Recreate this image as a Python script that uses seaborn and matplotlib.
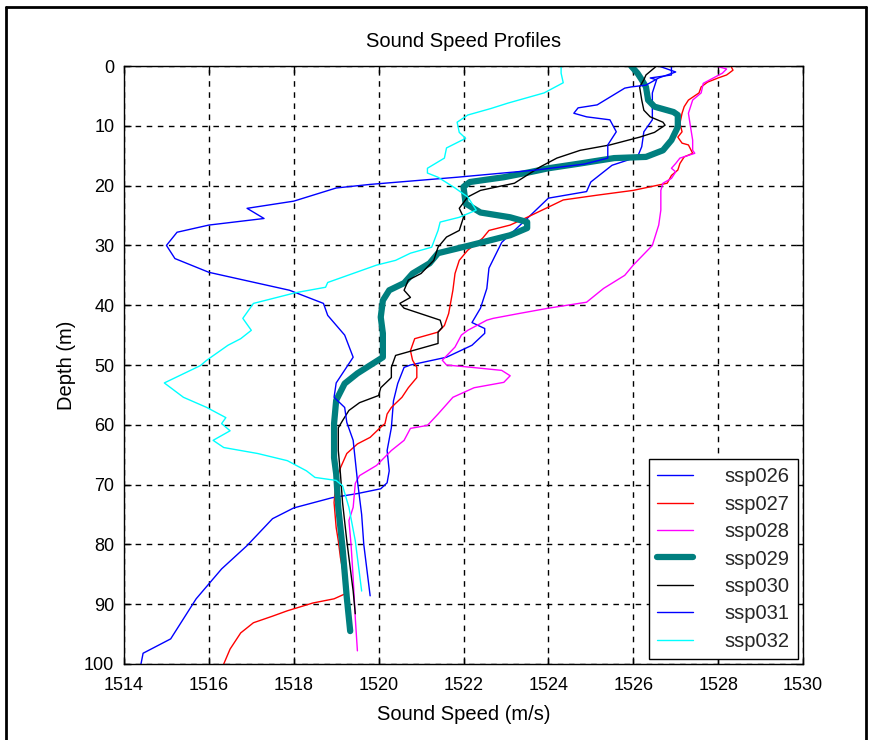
import matplotlib
matplotlib.use("Agg")
import matplotlib.pyplot as plt
import seaborn as sns
import pandas as pd
from matplotlib.lines import Line2D

sns.set_theme(style="white")
plt.rcParams['font.family'] = ['Liberation Sans', 'DejaVu Sans']

# ---------------- data (depth m, sound speed m/s) ----------------
ssp026_depth = [0, 0, 1.5, 2, 2.3, 4.5, 9, 11, 13.5, 15.2, 16.6, 19.4, 21, 22.1, 25.5, 29.5, 33.8,
                37.2, 40.5, 42.9, 43.9, 44.7, 46.7, 48.7, 50, 50.4, 53.1, 56, 60.5, 64.3, 67.7,
                69.7, 70.7, 71.5, 72.2, 73.9, 75.7, 80.2, 84.1, 89.1, 95.8, 98.2, 100]
ssp026_speed = [1526.5, 1526.9, 1526.9, 1526.4, 1526.55, 1526.45, 1526.45, 1526.25, 1526.2, 1526.1,
                1525.5, 1525.0, 1524.9, 1524.0, 1523.5, 1522.9, 1522.6, 1522.55, 1522.4, 1522.2,
                1522.5, 1522.5, 1522.2, 1521.6, 1520.75, 1520.6, 1520.45, 1520.35, 1520.3, 1520.2,
                1520.25, 1520.2, 1520.05, 1519.5, 1518.9, 1518.0, 1517.5, 1516.9, 1516.3, 1515.7,
                1515.1, 1514.45, 1514.4]

ssp027_depth = [0, 0.7, 1.5, 2, 2.7, 3.5, 4.5, 5.7, 6.8, 7.9, 9.6, 11, 11.9, 12.9, 13.2, 14.6, 15.2,
                16.3, 17.4, 18.3, 19.6, 20.8, 21.6, 22.4, 23.6, 25.3, 26.6, 27.5, 28.8, 30.8, 32.5,
                34.7, 37.5, 41.4, 43.4, 44.5, 45.6, 47.6, 49.2, 50.4, 52.1, 53.8, 55.4, 57.1, 58.2,
                59.8, 60.4, 62.1, 63.2, 64.8, 67.2, 69.3, 73, 77.2, 79.4, 82.2, 86, 88.3, 89.1,
                89.8, 91.1, 92, 93.1, 94.8, 97.5, 100]
ssp027_speed = [1528.3, 1528.35, 1528.2, 1528.0, 1527.75, 1527.6, 1527.55, 1527.3, 1527.2, 1527.15,
                1527.1, 1527.15, 1527.05, 1527.15, 1527.3, 1527.4, 1527.2, 1527.1, 1527.05, 1526.9,
                1526.8, 1526.0, 1525.15, 1524.35, 1524.0, 1523.5, 1523.1, 1522.6, 1522.45, 1522.1,
                1521.9, 1521.8, 1521.75, 1521.65, 1521.55, 1521.4, 1520.85, 1520.75, 1520.8, 1520.9,
                1520.9, 1520.7, 1520.55, 1520.3, 1520.2, 1520.15, 1520.05, 1519.8, 1519.5, 1519.25,
                1519.1, 1519.0, 1518.95, 1519.0, 1519.05, 1519.1, 1519.2, 1519.2, 1518.95, 1518.45,
                1517.85, 1517.5, 1517.05, 1516.75, 1516.5, 1516.35]

ssp028_depth = [0, 0.5, 1.2, 2.9, 4.5, 5.7, 7.9, 10.2, 12.4, 14.1, 14.6, 15.4, 16.3, 17.1, 17.7, 18.8,
                19.6, 20.8, 24.1, 26.6, 30, 33.3, 35, 37.2, 39.5, 40.5, 41.4, 42.2, 42.5, 44.2, 45,
                47, 49.2, 50, 50.4, 50.9, 51.8, 52.9, 53.8, 55.4, 58.2, 60.1, 60.6, 62.6, 64.3, 66.8,
                68.5, 69.8, 73.8, 76, 80, 85.6, 92.3, 97.8]
ssp028_speed = [1527.95, 1528.2, 1528.1, 1527.65, 1527.6, 1527.4, 1527.3, 1527.35, 1527.4, 1527.4,
                1527.45, 1527.1, 1527.0, 1526.9, 1527.0, 1526.9, 1526.7, 1526.65, 1526.65, 1526.6,
                1526.45, 1526.0, 1525.8, 1525.3, 1524.9, 1524.0, 1523.3, 1522.7, 1522.55, 1522.1,
                1521.95, 1521.8, 1521.5, 1521.6, 1522.2, 1522.9, 1523.1, 1522.95, 1522.25, 1521.75,
                1521.4, 1521.15, 1520.75, 1520.6, 1520.3, 1519.95, 1519.55, 1519.45, 1519.4, 1519.3,
                1519.35, 1519.4, 1519.45, 1519.5]

ssp029_depth = [0, 1.2, 2.3, 3.5, 5.7, 6.8, 7.7, 8.2, 10.2, 12.4, 14.1, 15.2, 15.4, 16.3, 17.1, 17.7,
                18.6, 19.4, 20.2, 23, 24.5, 25.3, 26.1, 27.1, 28.3, 30, 31.3, 33, 34.7, 36.3, 37.5,
                39.2, 42, 44.7, 48.7, 51.4, 53.1, 55.9, 59.8, 65.5, 68.2, 73.9, 80.6, 88.9, 94.5]
ssp029_speed = [1525.95, 1526.1, 1526.2, 1526.3, 1526.35, 1526.5, 1526.95, 1527.05, 1527.05, 1526.9,
                1526.7, 1526.3, 1525.55, 1524.75, 1524.0, 1523.6, 1522.95, 1522.15, 1522.0, 1522.05,
                1522.4, 1523.1, 1523.5, 1523.5, 1523.1, 1522.15, 1521.4, 1521.2, 1520.8, 1520.6,
                1520.25, 1520.1, 1520.05, 1520.1, 1520.1, 1519.5, 1519.2, 1519.0, 1518.95, 1518.95,
                1519.0, 1519.05, 1519.15, 1519.25, 1519.33]

ssp030_depth = [0, 1.5, 2.3, 3.5, 5.7, 7.4, 8.5, 9.4, 9.9, 11.1, 11.9, 13.2, 14.1, 15.4, 16.9, 19.6,
                20.8, 21.9, 23.8, 25.3, 27.5, 28.6, 30.3, 32.5, 34.7, 35.8, 37.5, 38.7, 39.7, 40.5,
                42.5, 43.7, 44.5, 46.4, 47.6, 48.4, 50.4, 52.1, 53.8, 55.1, 56.3, 57.6, 59.3, 60.5,
                64.3, 68.2, 73, 79.4, 87.8, 91.6]
ssp030_speed = [1526.55, 1526.3, 1526.25, 1526.15, 1526.2, 1526.25, 1526.4, 1526.7, 1526.75, 1526.5,
                1526.15, 1525.45, 1524.75, 1524.2, 1523.8, 1523.2, 1522.4, 1522.1, 1521.9, 1522.0,
                1521.9, 1521.6, 1521.4, 1521.3, 1521.0, 1520.7, 1520.6, 1520.75, 1520.5, 1520.6,
                1521.45, 1521.5, 1521.4, 1521.4, 1520.8, 1520.4, 1520.3, 1520.3, 1520.05, 1520.0,
                1519.55, 1519.3, 1519.15, 1519.05, 1519.05, 1519.1, 1519.15, 1519.25, 1519.4, 1519.45]

ssp031_depth = [0, 1, 2, 3.2, 3.5, 3.7, 6.5, 7, 7.9, 8.5, 9, 11, 13.2, 15.4, 16.4, 17.4, 18.6, 19.8,
                20.4, 22.6, 23.8, 25.5, 26.6, 27.8, 30, 32.2, 34.5, 37.5, 39.7, 41.7, 45, 48.7, 53,
                55.4, 57.1, 59.6, 62.6, 69.3, 75, 80, 88.6]
ssp031_speed = [1526.6, 1527.0, 1526.6, 1526.3, 1525.95, 1525.8, 1525.15, 1524.7, 1524.6, 1524.9,
                1525.45, 1525.6, 1525.4, 1525.4, 1524.85, 1523.7, 1521.85, 1519.8, 1519.0, 1518.0,
                1516.9, 1517.3, 1516.0, 1515.25, 1515.0, 1515.2, 1516.0, 1517.9, 1518.7, 1518.8,
                1519.2, 1519.4, 1519.0, 1518.95, 1519.2, 1519.25, 1519.4, 1519.5, 1519.6, 1519.65, 1519.8]

ssp032_depth = [0, 1.2, 2.8, 4.5, 6.2, 7.1, 8.2, 9.4, 11.1, 12.1, 13.7, 15.4, 17.1, 17.9, 18.6, 20.4,
                21.9, 24.1, 25.3, 26.1, 27.5, 30.3, 31.3, 32.5, 33.3, 36.2, 37, 37.9, 39.7, 42.2, 44.2,
                45.6, 46.7, 49.2, 50.1, 53, 55.4, 57.1, 58.8, 59.8, 61, 62.6, 63.8, 64.8, 66, 67.7,
                68.8, 69.3, 70.2, 73.8, 79.4, 87.8]
ssp032_speed = [1524.3, 1524.3, 1524.35, 1523.9, 1523.05, 1522.65, 1522.1, 1521.85, 1521.9, 1522.05,
                1521.6, 1521.55, 1521.15, 1521.15, 1521.4, 1521.8, 1522.1, 1522.3, 1521.9, 1521.45,
                1521.4, 1521.25, 1520.75, 1520.4, 1519.95, 1518.8, 1518.75, 1518.05, 1517.05, 1516.8,
                1517.0, 1516.75, 1516.45, 1515.95, 1515.8, 1514.95, 1515.4, 1515.95, 1516.4, 1516.3,
                1516.5, 1516.1, 1516.35, 1517.15, 1517.85, 1518.3, 1518.5, 1519.0, 1519.15, 1519.3,
                1519.45, 1519.6]

series_names = ["ssp026", "ssp027", "ssp028", "ssp029", "ssp030", "ssp031", "ssp032"]
series_depth = [ssp026_depth, ssp027_depth, ssp028_depth, ssp029_depth, ssp030_depth, ssp031_depth, ssp032_depth]
series_speed = [ssp026_speed, ssp027_speed, ssp028_speed, ssp029_speed, ssp030_speed, ssp031_speed, ssp032_speed]

x_ticks = [1514, 1516, 1518, 1520, 1522, 1524, 1526, 1528, 1530]
y_ticks = [0, 10, 20, 30, 40, 50, 60, 70, 80, 90, 100]

colors = ["#0000FF", "#FF0000", "#FF00FF", "#007F7F", "#000000", "#0000FF", "#00FFFF"]
widths = [1.0, 1.0, 1.0, 4.5, 1.0, 1.0, 1.0]

# ---------------- figure ----------------
fig = plt.figure(figsize=(8.71, 7.40), dpi=100)
fig.patch.set_facecolor("white")
ax = fig.add_axes([124 / 871, 1 - 664 / 740, (803 - 124) / 871, (664 - 66) / 740])

for name, d, s, c, w in zip(series_names, series_depth, series_speed, colors, widths):
    df = pd.DataFrame({"speed": s, "depth": d})
    sns.lineplot(data=df, x="speed", y="depth", sort=False, estimator=None,
                 color=c, linewidth=w, label=name, ax=ax)

ax.set_xlim(1514, 1530)
ax.set_ylim(100, 0)
ax.set_xticks(x_ticks)
ax.set_yticks(y_ticks)
ax.set_xticklabels([str(v) for v in x_ticks])
ax.set_yticklabels([str(v) for v in y_ticks])

ax.grid(True, color="black", linestyle=(0, (4, 4)), linewidth=1.0)
ax.set_axisbelow(True)
for sp in ax.spines.values():
    sp.set_visible(True)
    sp.set_color("black")
    sp.set_linewidth(1.0)

ax.tick_params(axis="both", direction="in", length=5, width=1, colors="black",
               labelsize=13, top=True, right=True, bottom=True, left=True)
ax.tick_params(axis="x", pad=9)
ax.tick_params(axis="y", pad=7)

ax.set_title("Sound Speed Profiles", fontsize=14.5, pad=14, color="black")
ax.set_xlabel("Sound Speed (m/s)", fontsize=14.5, labelpad=8, color="black")
ax.set_ylabel("Depth (m)", fontsize=14.5, labelpad=6, color="black")

leg = ax.legend(loc="lower right", fontsize=14.5, frameon=True, fancybox=False, framealpha=1,
                edgecolor="black", borderaxespad=0.25, labelspacing=0.42, handlelength=1.75,
                handletextpad=1.6, borderpad=0.4)
leg.get_frame().set_linewidth(1.0)

# outer figure frame
fig.add_artist(Line2D([6 / 871, 6 / 871], [0, 1 - 7 / 740], transform=fig.transFigure, color="black", lw=2))
fig.add_artist(Line2D([6 / 871, 866 / 871], [1 - 7 / 740, 1 - 7 / 740], transform=fig.transFigure, color="black", lw=2))
fig.add_artist(Line2D([866 / 871, 866 / 871], [0, 1 - 7 / 740], transform=fig.transFigure, color="black", lw=2))

fig.savefig("out.png", dpi=100, facecolor="white")
